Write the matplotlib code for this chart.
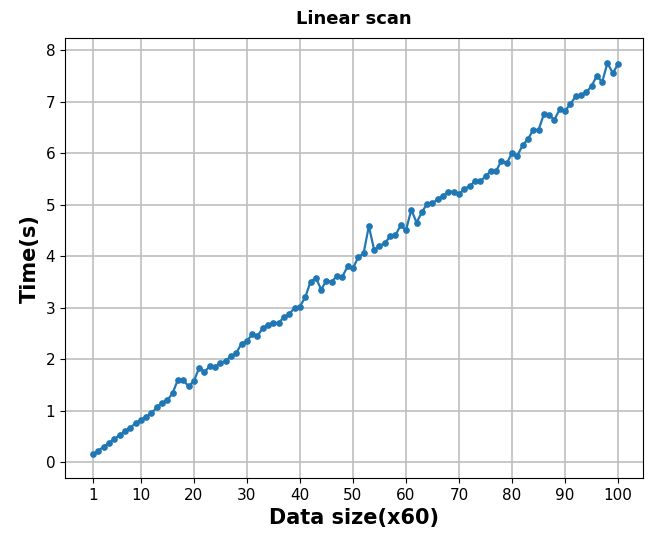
import matplotlib
matplotlib.use("Agg")
import matplotlib.pyplot as plt
import numpy as np

x = list(range(1, 101))
times = [0.15, 0.22, 0.30, 0.37, 0.45, 0.52, 0.60, 0.67, 0.75, 0.82,
         0.88, 0.95, 1.06, 1.15, 1.20, 1.34, 1.60, 1.59, 1.47, 1.57,
         1.83, 1.75, 1.86, 1.85, 1.92, 1.97, 2.05, 2.12, 2.30, 2.35,
         2.48, 2.45, 2.60, 2.67, 2.70, 2.70, 2.82, 2.87, 3.00, 3.02,
         3.20, 3.50, 3.58, 3.35, 3.52, 3.50, 3.62, 3.60, 3.80, 3.76,
         3.98, 4.05, 4.58, 4.12, 4.20, 4.25, 4.38, 4.40, 4.60, 4.50,
         4.90, 4.65, 4.85, 5.02, 5.03, 5.10, 5.17, 5.25, 5.25, 5.20,
         5.30, 5.36, 5.45, 5.45, 5.55, 5.65, 5.65, 5.85, 5.80, 6.00,
         5.95, 6.15, 6.27, 6.45, 6.45, 6.75, 6.73, 6.65, 6.85, 6.82,
         6.95, 7.10, 7.12, 7.18, 7.30, 7.50, 7.38, 7.75, 7.55, 7.73]
xticks = [1, 10, 20, 30, 40, 50, 60, 70, 80, 90, 100]

fig = plt.figure(figsize=(6.52, 5.38), dpi=100)
ax = fig.add_axes([0.0997, 0.1115, 0.8865, 0.8175])
ax.plot(x, times, marker='o', markersize=3.8, linewidth=1.6, color='#1f77b4')
ax.set_xticks(xticks)
ax.set_yticks(range(0, 9))
ax.set_xlim(-4.3, 104.7)
ax.set_ylim(-0.31, 8.23)
ax.tick_params(labelsize=11)
ax.grid(True, color='#bfbfbf', linewidth=1.2)
ax.set_axisbelow(True)
ax.set_title("Linear scan", fontsize=13, fontweight='bold', pad=10)
ax.set_xlabel("Data size(x60)", fontsize=15, fontweight='bold')
ax.set_ylabel("Time(s)", fontsize=15, fontweight='bold')
fig.savefig("out.png", dpi=100)
